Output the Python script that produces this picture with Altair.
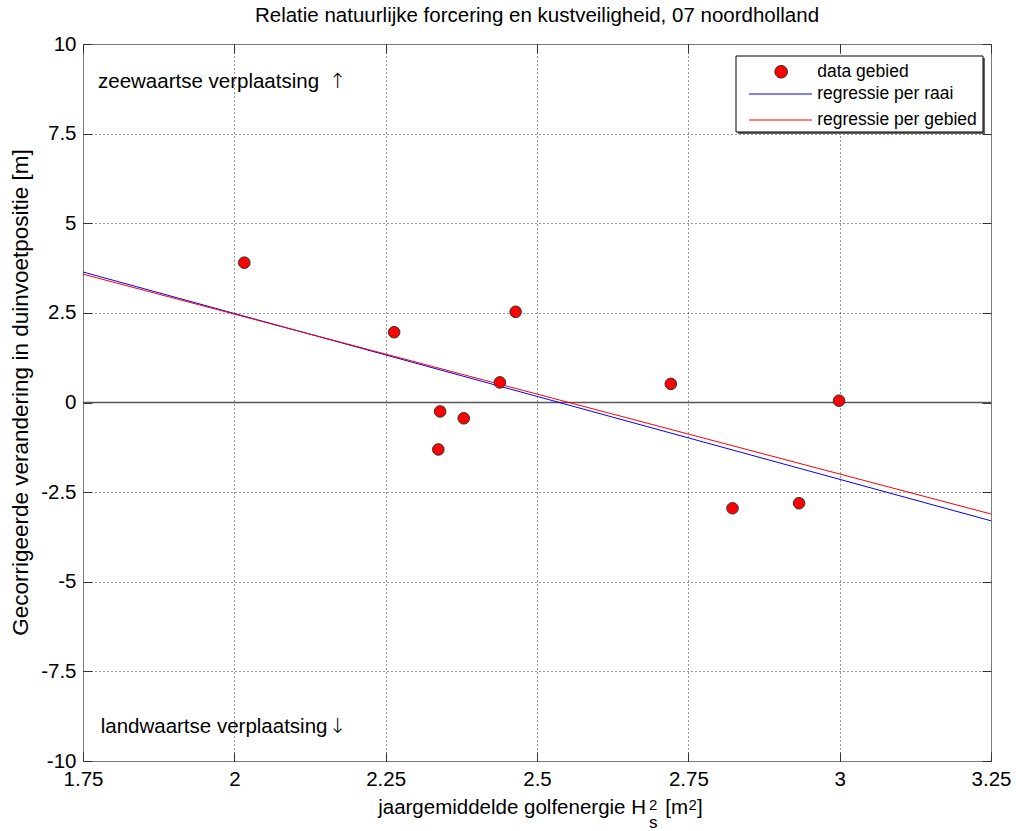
import altair as alt
import pandas as pd

# ---------------- data ----------------
x_ticks = [1.75, 2, 2.25, 2.5, 2.75, 3, 3.25]
y_ticks = [-10, -7.5, -5, -2.5, 0, 2.5, 5, 7.5, 10]
x_grid = [2, 2.25, 2.5, 2.75, 3]
y_grid = [-7.5, -5, -2.5, 2.5, 5, 7.5]

energy = [2.0165, 2.264, 2.4647, 2.4387, 2.340, 2.379, 2.337, 2.721, 2.999, 2.823, 2.933]
change = [3.90, 1.96, 2.53, 0.56, -0.25, -0.44, -1.31, 0.52, 0.05, -2.95, -2.81]

line_x = [1.75, 3.25]
raai_y = [3.64, -3.30]
gebied_y = [3.58, -3.11]

point_series = ["data gebied"]
line_series = ["\u00a0regressie per raai", "regressie per gebied"]

title_text = "Relatie natuurlijke forcering en kustveiligheid, 07 noordholland"
y_title = "Gecorrigeerde verandering in duinvoetpositie [m]"
annot_labels = ["zeewaartse verplaatsing", "landwaartse verplaatsing"]
annot_arrows = ["\u2191", "\u2193"]

# ---------------- tables ----------------
points_df = pd.DataFrame({"x": energy, "y": change, "series": point_series[0]})
lines_df = pd.DataFrame({
    "x": line_x + line_x,
    "y": raai_y + gebied_y,
    "series": [line_series[0]] * 2 + [line_series[1]] * 2,
    "order": [0, 0, 1, 1],
})
zero_df = pd.DataFrame({"y": [0]})
annot_df = pd.DataFrame({"x": [1.7748, 1.7792], "y": [8.76, -9.23], "label": annot_labels})
arrow_df = pd.DataFrame({"x": [2.171, 2.171], "y": [8.76, -9.23], "label": annot_arrows})
one = pd.DataFrame({"a": [0]})

FONT = "Liberation Sans"
FS = 20.5

x_scale = alt.Scale(domain=[1.75, 3.25], nice=False, zero=False)
y_scale = alt.Scale(domain=[-10, 10], nice=False, zero=False)

grid_common = dict(grid=True, ticks=False, labels=False, domain=False,
                   gridColor="black", gridDash=[1, 3], gridOpacity=0.8, gridWidth=1)

grid_x_axis = alt.Axis(orient="bottom", values=x_grid, title=None, **grid_common)
grid_y_axis = alt.Axis(orient="left", values=y_grid, title=y_title,
                       titleX=-63, titleY=348, titleAngle=270, titleAlign="center",
                       titleBaseline="middle", titleFontSize=22.5, titleFont=FONT,
                       titleFontWeight="normal", titleColor="black", **grid_common)

tick_common = dict(ticks=True, tickSize=9, tickColor="#333333", tickWidth=1,
                   domain=False, grid=False, title=None, offset=-9)

lab_x_axis = alt.Axis(orient="bottom", values=x_ticks, labels=True,
                      labelExpr="toString(datum.value)", labelFont=FONT,
                      labelFontSize=FS, labelColor="black", labelPadding=8,
                      labelFlush=False, labelOverlap=False, **tick_common)
lab_y_axis = alt.Axis(orient="left", values=y_ticks, labels=True,
                      labelExpr="toString(datum.value)", labelFont=FONT,
                      labelFontSize=FS, labelColor="black", labelPadding=7,
                      labelFlush=False, labelOverlap=False, **tick_common)
edge_x_axis = alt.Axis(orient="top", values=x_ticks, labels=False, **tick_common)
edge_y_axis = alt.Axis(orient="right", values=y_ticks, labels=False, **tick_common)

# ---------------- layers ----------------
zero = alt.Chart(zero_df).mark_rule(color="#555555", strokeWidth=1.5).encode(
    y=alt.Y("y:Q", scale=y_scale, axis=None)
)

lines = alt.Chart(lines_df).mark_line(strokeWidth=1, clip=True).encode(
    x=alt.X("x:Q", scale=x_scale, axis=grid_x_axis),
    y=alt.Y("y:Q", scale=y_scale, axis=grid_y_axis),
    stroke=alt.Stroke(
        "series:N",
        scale=alt.Scale(domain=line_series, range=["#0000ff", "#ff0000"]),
        legend=alt.Legend(
            orient="none", legendX=688.7, legendY=41.25, title=None,
            symbolType="M-5,0H5", symbolSize=158.8, symbolStrokeWidth=1,
            labelFont=FONT, labelFontSize=17.5, labelColor="black",
            labelOffset=28.0, rowPadding=7, padding=0,
        ),
    ),
    order=alt.Order("order:Q"),
)

points = alt.Chart(points_df).mark_circle(
    size=135, opacity=1, stroke="#333333", strokeWidth=1
).encode(
    x=alt.X("x:Q", scale=x_scale, axis=lab_x_axis),
    y=alt.Y("y:Q", scale=y_scale, axis=lab_y_axis),
    fill=alt.Fill(
        "series:N",
        scale=alt.Scale(domain=point_series, range=["#ff0000"]),
        legend=alt.Legend(
            orient="none", legendX=689.4, legendY=19, title=None,
            symbolType="circle", symbolSize=160, symbolStrokeColor="#333333",
            symbolStrokeWidth=1, symbolOpacity=1,
            labelFont=FONT, labelFontSize=17.5, labelColor="black",
            labelOffset=27.3, padding=0,
        ),
    ),
)

annot = alt.Chart(annot_df).mark_text(
    align="left", baseline="alphabetic", fontSize=FS, font=FONT, color="black"
).encode(
    x=alt.X("x:Q", scale=x_scale, axis=edge_x_axis),
    y=alt.Y("y:Q", scale=y_scale, axis=edge_y_axis),
    text="label:N",
)

arrows = alt.Chart(arrow_df).mark_text(
    align="center", baseline="alphabetic", fontSize=21, font="DejaVu Sans",
    color="black", fontWeight=200
).encode(
    x=alt.X("x:Q", scale=x_scale, axis=None),
    y=alt.Y("y:Q", scale=y_scale, axis=None),
    text="label:N",
)

shadow = alt.Chart(one).mark_rect(fill="#666666").encode(
    x=alt.value(655), x2=alt.value(902), y=alt.value(14), y2=alt.value(90)
)
box = alt.Chart(one).mark_rect(fill="white", stroke="black", strokeWidth=1).encode(
    x=alt.value(653), x2=alt.value(900), y=alt.value(12), y2=alt.value(88)
)


def txt(s, x, y, size, align="left"):
    return alt.Chart(one).mark_text(
        text=s, align=align, baseline="alphabetic", fontSize=size, font=FONT, color="black"
    ).encode(x=alt.value(x), y=alt.value(y))


xt_main = txt("jaargemiddelde golfenergie H", 563, 770, FS, align="right")
xt_sup1 = txt("2", 566, 766, 15)
xt_sub = txt("s", 566, 783.5, 17)
xt_m = txt("[m", 605, 770, FS, align="right")
xt_sup2 = txt("2", 605.5, 766, 15)
xt_close = txt("]", 614, 770, FS)

chart = alt.layer(
    zero, lines, points, annot, arrows, shadow, box,
    xt_main, xt_sup1, xt_sub, xt_m, xt_sup2, xt_close,
).resolve_scale(
    x="shared", y="shared"
).resolve_axis(
    x="independent", y="independent"
).resolve_legend(
    fill="independent", stroke="independent"
).properties(
    width=908,
    height=717,
    title=alt.TitleParams(
        text=title_text, fontSize=FS, font=FONT, fontWeight="normal",
        color="black", anchor="middle", offset=8,
    ),
    autosize=alt.AutoSizeParams(type="none"),
    padding={"left": 83, "top": 44, "right": 25, "bottom": 70},
    background="white",
).configure_view(
    stroke="#7a7a7a", strokeWidth=1
)

chart.save("out.html", embed_options={"renderer": "svg", "actions": False})
